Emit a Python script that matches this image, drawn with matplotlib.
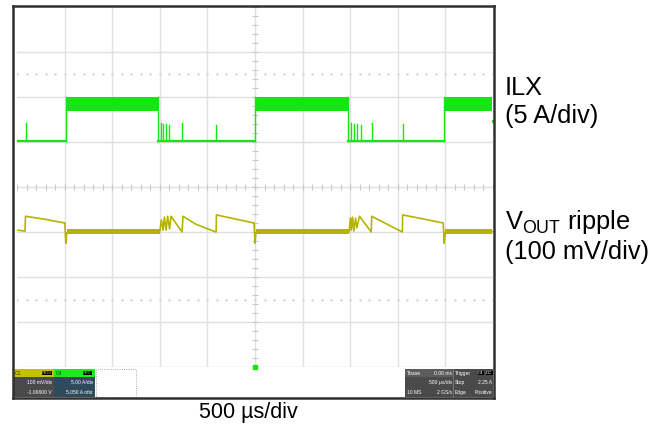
import matplotlib
matplotlib.use('Agg')
import matplotlib.pyplot as plt
from matplotlib.patches import Rectangle
import numpy as np

plt.rcParams['font.family'] = ['Liberation Sans', 'DejaVu Sans']
plt.rcParams['mathtext.fontset'] = 'custom'
plt.rcParams['mathtext.rm'] = 'Liberation Sans'

# ---- data (time in us, ILX in A above low level, VOUT ripple in mV) ----
ilx_rise = [-1987, 0, 1987]
ilx_fall = [-1015, 973]
ilx_band_lo = 3.3
ilx_band_hi = 4.9
spike_t = [-2406, -983, -962, -931, -900, -764, -408, 1004, 1036, 1067, 1109, 1224, 1558]
spike_a = [2.0, 2.0, 1.9, 1.9, 1.8, 2.0, 1.8, 2.0, 1.9, 1.9, 1.8, 2.0, 1.9]

vout_t = [-2490, -2416, -2411, -2200, -1998, -1987, -1977, -1001, -983, -966, -952, -934,
          -918, -897, -882, -767, -756, -628, -499, -408, -405, -209, -10, 0, 10, 988,
          1002, 1012, 1024, 1039, 1056, 1070, 1098, 1221, 1226, 1381, 1548, 1551, 1768,
          1977, 1987, 1998, 2490]
vout_mv = [3, 1, 34, 27, 19, -26, -3, -1, 26, 3, 32, 3,
           34, 6, 34, -1, 34, 17, 6, -1, 37, 28, 19, -26, -3, -1,
           30, 3, 32, 1, 30, 8, 34, -1, 34, 17, -1, 37, 28,
           19, -26, -3, 0]
vout_band = [(-1977, -1001), (10, 988), (1998, 2490)]
vout_noise = 5.0

GREEN = '#14e614'
YELLOW = '#b4b400'
W, H = 665, 436


def fx(x):
    return x / W


def fy(y):
    return 1 - y / H


# conversion to screen divisions
def ilx_div(a):
    return 1.02 + np.asarray(a) / 5.0


def vout_div(mv):
    return -0.99 + np.asarray(mv) / 100.0


fig = plt.figure(figsize=(W / 100, H / 100), dpi=100)
ax = fig.add_axes([fx(17), fy(367), fx(493) - fx(17), fy(7) - fy(367)])
ax.set_xlim(-2500, 2500)
ax.set_ylim(-4, 4)
ax.set_xticks([])
ax.set_yticks([])
for s in ax.spines.values():
    s.set_visible(False)

# graticule
gc = '#e0e0e0'
for k in range(-4, 5):
    ax.axvline(k * 500, color=gc, lw=1, zorder=0)
for k in range(-3, 4):
    ax.axhline(k, color=gc, lw=1, zorder=0)
ax.axhline(-4, color=gc, lw=1, zorder=0)
tk = np.arange(-2500, 2501, 100)
ax.plot(tk, np.zeros_like(tk), '|', color='#c8c8c8', ms=4, mew=0.8, zorder=0)
ty = np.arange(-4, 4.01, 0.2)
ax.plot(np.zeros_like(ty), ty, '_', color='#c8c8c8', ms=4, mew=0.8, zorder=0)
for yy in (2.5, -2.5):
    ax.plot(tk, np.full_like(tk, yy, dtype=float), '.', color='#d4d4d4', ms=1.5, zorder=0)

# ILX trace
low = ilx_div(0)
edges = sorted(ilx_rise + ilx_fall)
x_low = [-2490, ilx_rise[0], ilx_fall[0], ilx_rise[1], ilx_fall[1], ilx_rise[2]]
for a, b in zip(x_low[0::2], x_low[1::2]):
    ax.plot([a, b], [low, low], color=GREEN, lw=1.6, zorder=3)
for t in edges:
    ax.plot([t, t], [low, ilx_div(ilx_band_hi)], color=GREEN, lw=1, zorder=3)
highs = [(ilx_rise[0], ilx_fall[0]), (ilx_rise[1], ilx_fall[1]), (ilx_rise[2], 2490)]
for a, b in highs:
    ax.fill_between([a, b], ilx_div(ilx_band_lo), ilx_div(ilx_band_hi), color=GREEN, lw=0, zorder=3)
for t, a in zip(spike_t, spike_a):
    ax.plot([t, t], [low, ilx_div(a)], color=GREEN, lw=1, zorder=3)

# VOUT ripple trace
ax.plot(vout_t, vout_div(vout_mv), color=YELLOW, lw=1.2, zorder=3)
for a, b in vout_band:
    ax.fill_between([a, b], vout_div(-vout_noise), vout_div(vout_noise), color=YELLOW, lw=0, zorder=3)

# markers
ax.plot([0], [-4], 's', color=GREEN, ms=3, clip_on=False, zorder=5)
ax.plot([2500], [ilx_div(2.25)], 's', color=GREEN, ms=2, clip_on=False, zorder=5)

# outer frame
fig.add_artist(plt.Line2D([fx(13), fx(13)], [fy(6), fy(398)], color='#303030', lw=1.8))
fig.add_artist(plt.Line2D([fx(13), fx(494)], [fy(6), fy(6)], color='#303030', lw=1.8))
fig.add_artist(plt.Line2D([fx(494), fx(494)], [fy(6), fy(398)], color='#303030', lw=1.8))
fig.add_artist(plt.Line2D([fx(13), fx(494)], [fy(398), fy(398)], color='#303030', lw=1.8))


def box(x0, y0, x1, y1, fc, ec='none', ls='-'):
    fig.add_artist(Rectangle((fx(x0), fy(y1)), fx(x1) - fx(x0), fy(y0) - fy(y1),
                             facecolor=fc, edgecolor=ec, lw=0.6, linestyle=ls))


def txt(x, y, s, ha='left', color='white', size=3.6, bg=None):
    fig.text(fx(x), fy(y), s, ha=ha, va='center', color=color, fontsize=size,
             bbox=None if bg is None else dict(fc=bg, ec='none', pad=0.3))


# status bar, left
box(14, 369, 54, 377, '#c2c200')
box(14, 377, 54, 397, '#4a4a4a')
box(54, 369, 95, 377, '#22e622')
box(54, 377, 95, 397, '#2f4a5a')
box(96, 369, 136, 397, 'white', ec='#909090', ls=':')
txt(15, 373, 'C1', color='#333300')
txt(42, 373, 'FBDI', color='#c2c200', bg='black', size=3.2)
txt(56, 373, 'C4', color='#004400')
txt(83, 373, 'FBC', color='#22e622', bg='black', size=3.2)
txt(52, 382, '100 mV/div', ha='right')
txt(52, 392, '-1.09600 V', ha='right')
txt(93, 382, '5.00 A/div', ha='right')
txt(93, 392, '5.050 A ofst', ha='right')

# status bar, right
box(405, 369, 493, 397, '#4a4a4a')
box(405, 369, 453, 377, '#5c5c5c')
fig.add_artist(plt.Line2D([fx(453), fx(453)], [fy(369), fy(397)], color='#888888', lw=0.5))
txt(407, 373, 'Tbase')
txt(452, 373, '0.00 ms', ha='right')
txt(455, 373, 'Trigger')
txt(478, 373, 'C4', color='white', bg='black', size=3.2)
txt(486, 373, 'DC', color='white', bg='black', size=3.2)
txt(452, 382, '500 \u00b5s/div', ha='right')
txt(455, 382, 'Stop')
txt(492, 382, '2.25 A', ha='right')
txt(407, 392, '10 MS')
txt(452, 392, '2 GS/s', ha='right')
txt(455, 392, 'Edge')
txt(492, 392, 'Positive', ha='right')

# labels
fs = 18.3
fig.text(fx(505), fy(88), 'ILX', fontsize=fs, va='center')
fig.text(fx(505), fy(116), '(5 A/div)', fontsize=fs, va='center')
fig.text(fx(505), fy(222), r'V$_{\mathregular{OUT}}$ ripple', fontsize=fs, va='center')
fig.text(fx(505), fy(252), '(100 mV/div)', fontsize=fs, va='center')
fig.text(fx(248), fy(412), '500 \u00b5s/div', fontsize=15.5, ha='center', va='center')

fig.savefig('out.png', dpi=100)
